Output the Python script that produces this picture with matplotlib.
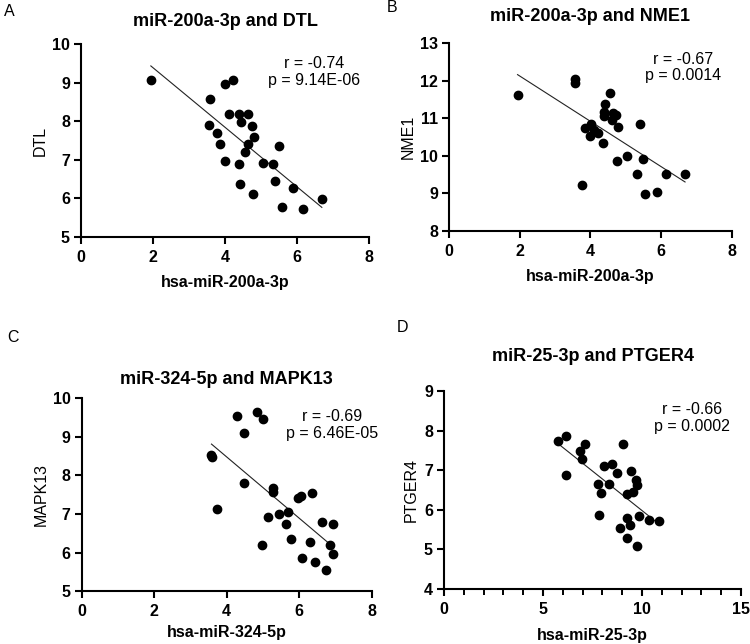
import matplotlib
matplotlib.use("Agg")
import matplotlib.pyplot as plt
import numpy as np
from matplotlib.ticker import MultipleLocator

plt.rcParams['font.family'] = ['Liberation Sans', 'DejaVu Sans']

# ---------------- data ----------------
a_x = [1.94, 3.58, 4.00, 4.23, 3.56, 3.79, 3.86, 4.12, 4.40, 4.44, 4.64, 4.75, 4.80, 4.65,
       4.56, 4.00, 4.39, 4.42, 4.77, 5.06, 5.32, 5.51, 5.40, 5.57, 5.90, 6.18, 6.69]
a_y = [9.07, 8.58, 8.96, 9.07, 7.90, 7.69, 7.40, 8.19, 8.19, 7.99, 8.19, 7.88, 7.60, 7.40,
       7.19, 6.96, 6.89, 6.36, 6.11, 6.92, 6.88, 7.37, 6.46, 5.76, 6.27, 5.72, 5.99]

b_x = [1.94, 3.57, 3.57, 4.56, 4.42, 4.40, 4.40, 4.64, 4.74, 4.62, 4.79, 5.41, 3.85, 4.02,
       4.11, 4.23, 3.99, 4.37, 5.04, 4.75, 5.48, 5.31, 6.15, 6.68, 3.77, 5.56, 5.89]
b_y = [11.63, 12.05, 11.94, 11.67, 11.38, 11.18, 11.06, 11.13, 11.10, 10.95, 10.78, 10.84,
       10.74, 10.86, 10.70, 10.60, 10.54, 10.35, 9.99, 9.85, 9.91, 9.52, 9.51, 9.51, 9.21,
       8.97, 9.03]

c_x = [3.58, 3.60, 4.29, 4.83, 4.99, 4.49, 4.49, 3.72, 5.29, 5.29, 5.96, 6.05, 6.35, 5.15,
       5.43, 5.70, 5.64, 5.78, 4.98, 6.30, 6.64, 6.92, 6.85, 6.92, 6.09, 6.44, 6.74]
c_y = [8.52, 8.47, 9.54, 9.64, 9.45, 9.10, 7.81, 7.14, 7.68, 7.57, 7.42, 7.47, 7.55, 6.92,
       6.99, 7.05, 6.73, 6.35, 6.20, 6.28, 6.80, 6.74, 6.20, 5.97, 5.85, 5.75, 5.55]

d_x = [5.77, 6.14, 6.17, 7.14, 6.85, 6.99, 7.76, 7.95, 7.83, 8.08, 8.50, 8.35, 8.75, 9.06,
       9.46, 9.70, 9.75, 9.55, 9.26, 9.23, 9.38, 8.89, 9.85, 10.37, 10.88, 9.23, 9.76]
d_y = [7.74, 7.87, 6.89, 7.67, 7.48, 7.29, 6.64, 6.43, 5.86, 7.11, 7.16, 6.64, 6.94, 7.67,
       6.97, 6.76, 6.63, 6.44, 6.39, 5.79, 5.61, 5.55, 5.83, 5.74, 5.72, 5.28, 5.08]

titles = ["miR-200a-3p and DTL", "miR-200a-3p and NME1",
          "miR-324-5p and MAPK13", "miR-25-3p and PTGER4"]
xlabels = ["hsa-miR-200a-3p", "hsa-miR-200a-3p", "hsa-miR-324-5p", "hsa-miR-25-3p"]
ylabels = ["DTL", "NME1", "MAPK13", "PTGER4"]
stats = ["r = -0.74\np = 9.14E-06", "r = -0.67\np = 0.0014",
         "r = -0.69\np = 6.46E-05", "r = -0.66\np = 0.0002"]
panel_letters = ["A", "B", "C", "D"]
xlims = [(0, 8), (0, 8), (0, 8), (0, 15)]
ylims = [(5, 10), (8, 13), (5, 10), (4, 9)]
xticks = [[0, 2, 4, 6, 8], [0, 2, 4, 6, 8], [0, 2, 4, 6, 8], [0, 5, 10, 15]]

# ---------------- layout ----------------
W, H = 750, 644
fig = plt.figure(figsize=(W / 100, H / 100), dpi=100)

def px_axes(l, r, t, b):
    return fig.add_axes([l / W, 1 - b / H, (r - l) / W, (b - t) / H])

axes = [px_axes(81, 369, 44.3, 236.7),
        px_axes(449, 731.7, 43.3, 230.7),
        px_axes(81.7, 371.7, 398, 591.3),
        px_axes(444, 741, 391.3, 588.7)]

title_pads = [13, 16, 10, 22]
stat_pos = [(0.81, 0.858), (0.827, 0.871), (0.863, 0.86), (0.835, 0.865)]
ylabel_pads = [3, 3, 3, 4]
xlabel_pads = [7, 7, 4, 8]
letter_pos = [(9, 11), (392, 8), (13, 337), (402, 328)]

data = [(a_x, a_y), (b_x, b_y), (c_x, c_y), (d_x, d_y)]

for i, ax in enumerate(axes):
    x, y = np.array(data[i][0]), np.array(data[i][1])
    ax.scatter(x, y, s=36, color='black', zorder=3, clip_on=False)
    k, c0 = np.polyfit(x, y, 1)
    xx = np.array([x.min(), x.max()])
    ax.plot(xx, k * xx + c0, color='#222222', lw=0.8, zorder=2)

    ax.set_xlim(*xlims[i])
    ax.set_ylim(*ylims[i])
    ax.set_xticks(xticks[i])
    ax.set_yticks(np.arange(ylims[i][0], ylims[i][1] + 1, 1))
    if i == 3:
        ax.xaxis.set_minor_locator(MultipleLocator(1))
        ax.tick_params(axis='x', which='minor', length=4, width=1.4, direction='out')

    for s in ['top', 'right']:
        ax.spines[s].set_visible(False)
    for s in ['left', 'bottom']:
        ax.spines[s].set_linewidth(1.5)
    ax.tick_params(axis='both', which='major', length=5, width=1.5, direction='out',
                   labelsize=11.5, pad=3)
    ax.tick_params(axis='x', which='major', pad=4.5)
    for lab in ax.get_xticklabels() + ax.get_yticklabels():
        lab.set_fontweight('bold')

    ax.set_title(titles[i], fontsize=13, fontweight='bold', pad=title_pads[i])
    ax.set_xlabel(xlabels[i], fontsize=11.5, fontweight='bold', labelpad=xlabel_pads[i])
    ax.set_ylabel(ylabels[i], fontsize=11.5, labelpad=ylabel_pads[i])
    ax.text(stat_pos[i][0], stat_pos[i][1], stats[i], transform=ax.transAxes,
            ha='center', va='center', fontsize=11.5, linespacing=1.15)

    fig.text(letter_pos[i][0] / W, 1 - letter_pos[i][1] / H, panel_letters[i],
             fontsize=11.5, ha='center', va='center')

fig.savefig("out.png", dpi=100)
